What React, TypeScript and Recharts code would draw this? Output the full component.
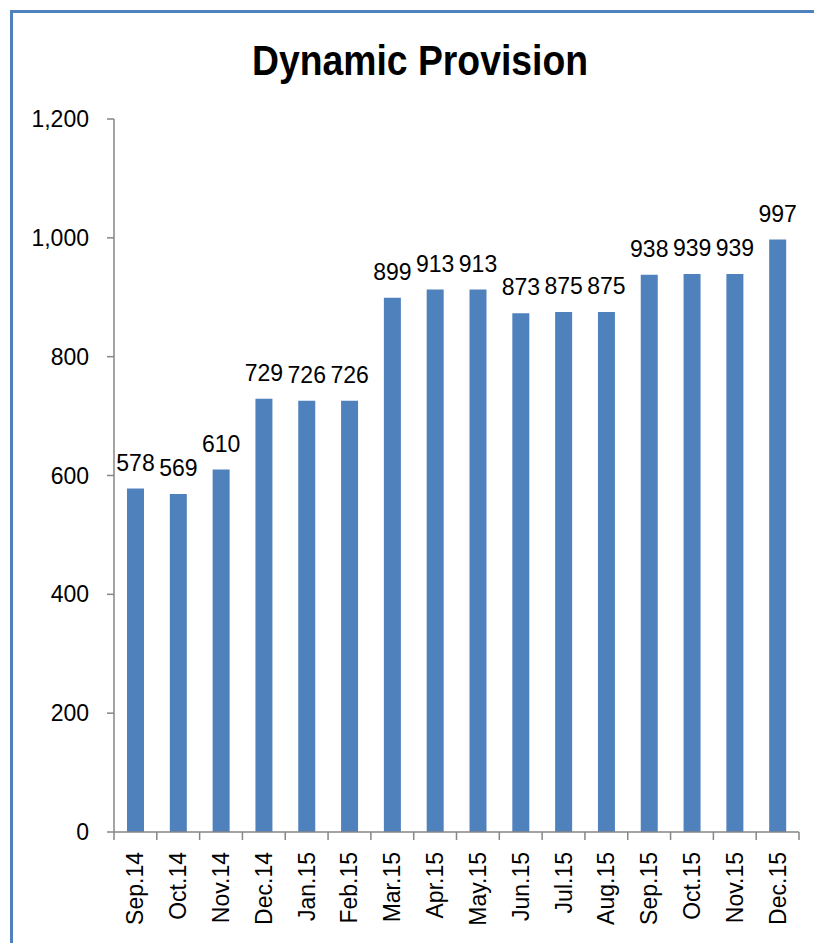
import React from 'react';
import { BarChart, Bar, XAxis, YAxis, LabelList } from 'recharts';

const categories = ['Sep.14', 'Oct.14', 'Nov.14', 'Dec.14', 'Jan.15', 'Feb.15', 'Mar.15', 'Apr.15', 'May.15', 'Jun.15', 'Jul.15', 'Aug.15', 'Sep.15', 'Oct.15', 'Nov.15', 'Dec.15'];
const values = [578, 569, 610, 729, 726, 726, 899, 913, 913, 873, 875, 875, 938, 939, 939, 997];
const yTicks = [0, 200, 400, 600, 800, 1000, 1200];

const data = categories.map((c, i) => ({ name: c, value: values[i] }));

const AXIS = '#868686';
const BLUE = '#4F81BD';
const FONT = '"Liberation Sans", Arial, sans-serif';

const XTick = (props: any) => {
  const { x, y, payload, index, visibleTicksCount, width } = props;
  const half = payload && payload.offset ? payload.offset : width / visibleTicksCount / 2;
  return (
    <g>
      <line x1={x - half} x2={x - half} y1={y} y2={y + 8} stroke={AXIS} strokeWidth={1.5} />
      {index === visibleTicksCount - 1 && (
        <line x1={x + half} x2={x + half} y1={y} y2={y + 8} stroke={AXIS} strokeWidth={1.5} />
      )}
      <text
        x={0}
        y={0}
        transform={`translate(${x + 8},${y + 20}) rotate(-90)`}
        textAnchor="end"
        fontSize={23}
        fontFamily={FONT}
        fill="#000"
      >
        {payload.value}
      </text>
    </g>
  );
};

export default function App() {
  return (
    <div style={{ position: 'absolute', left: 0, top: 0, width: 814, height: 943, overflow: 'hidden', background: '#fff' }}>
      <div
        style={{
          position: 'absolute',
          left: 10,
          top: 10,
          width: 830,
          height: 960,
          border: `3px solid ${BLUE}`,
          boxSizing: 'border-box',
        }}
      />
      <div style={{ position: 'absolute', left: 0, top: 0 }}>
        <BarChart
          width={814}
          height={943}
          data={data}
          margin={{ top: 119, right: 15, left: 0, bottom: 0 }}
        >
          <XAxis
            dataKey="name"
            height={111}
            interval={0}
            tickLine={false}
            tickSize={0}
            tickMargin={0}
            stroke={AXIS}
            strokeWidth={1.5}
            tick={<XTick />}
          />
          <YAxis
            width={114}
            domain={[0, 1200]}
            ticks={yTicks}
            interval={0}
            tickSize={7}
            tickMargin={18}
            stroke={AXIS}
            strokeWidth={1.5}
            tickFormatter={(v: number) => v.toLocaleString('en-US')}
            tick={{ fill: '#000', fontSize: 23, fontFamily: FONT }}
          />
          <Bar dataKey="value" fill={BLUE} barSize={17} isAnimationActive={false}>
            <LabelList
              dataKey="value"
              position="top"
              offset={18}
              fill="#000"
              fontSize={23}
              fontFamily={FONT}
            />
          </Bar>
        </BarChart>
      </div>
      <svg width={814} height={110} style={{ position: 'absolute', left: 0, top: 0 }}>
        <text
          x={420}
          y={75}
          textAnchor="middle"
          fontSize={42}
          fontWeight="bold"
          textLength={336}
          lengthAdjust="spacingAndGlyphs"
          fontFamily={FONT}
          fill="#000"
        >
          Dynamic Provision
        </text>
      </svg>
    </div>
  );
}
